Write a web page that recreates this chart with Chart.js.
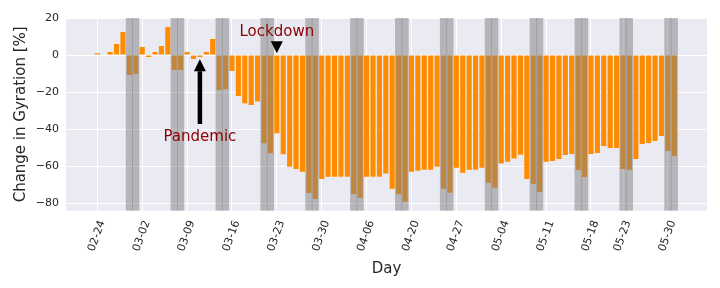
<!DOCTYPE html>
<html>
<head>
<meta charset="utf-8">
<script src="https://cdn.jsdelivr.net/npm/chart.js@4/dist/chart.umd.min.js"></script>
<style>
  html, body { margin: 0; padding: 0; background: #ffffff; }
  #wrap { width: 720px; height: 288px; }
</style>
</head>
<body>
<div id="wrap"><canvas id="c" width="720" height="288"></canvas></div>
<script>
// ---------------- data ----------------
// day index (0 = 02-24)
const days = [
  0,1,2,3,4,5,6,7,8,9,10,11,12,13,14,15,16,17,18,19,20,21,22,23,24,25,26,27,28,29,
  30,31,32,33,34,35,36,37,38,39,40,41,42,43,44,45,46,47,48,49,50,51,52,53,54,55,56,57,58,59,
  60,61,62,63,64,65,66,67,68,69,70,71,72,73,74,75,76,77,78,79,80,81,82,83,84,85,86,87,88,89,90
];
// change in gyration [%]
const gyration = [
  1.0, 0.0, 1.6, 5.9, 12.4, -10.8, -10.3, 4.3, -1.1, 1.6,
  4.9, 15.1, -8.1, -8.1, 1.6, -2.2, -1.1, 1.6, 8.6, -18.9,
  -18.4, -8.6, -22.2, -26.1, -27.0, -25.2, -47.7, -53.1, -42.3, -53.7,
  -60.4, -61.6, -63.1, -74.6, -77.8, -67.0, -65.8, -65.8, -65.8, -65.8,
  -75.1, -77.1, -65.8, -65.8, -65.8, -64.1, -72.3, -75.1, -79.3, -63.1,
  -62.5, -62.0, -62.0, -60.4, -72.3, -74.4, -60.9, -63.6, -62.0, -62.0,
  -60.9, -69.0, -71.7, -58.7, -57.7, -56.0, -53.9, -67.0, -69.7, -74.1,
  -57.7, -57.3, -56.2, -54.1, -53.5, -62.2, -65.9, -53.5, -53.0, -49.2,
  -50.3, -50.3, -61.6, -62.2, -56.2, -48.1, -47.6, -46.5, -43.8, -51.9,
  -54.6
];
// weekend days (shaded)
const weekendDays = [5,6,12,13,19,20,26,27,33,34,40,41,47,48,54,55,61,62,68,69,75,76,82,83,89,90];
// x tick positions and labels
const tickDays   = [0, 7, 14, 21, 28, 35, 42, 49, 56, 63, 70, 77, 82, 89];
const tickLabels = ['02-24','03-02','03-09','03-16','03-23','03-30','04-06','04-20','04-27','05-04','05-11','05-18','05-23','05-30'];
// y ticks
const yTicks = [20, 0, -20, -40, -60, -80];
// axis limits
const xLimits = [-4.885, 95.1];
const yLimits = [-84.16, 20];
// events (annotations)
const eventNames      = ['Pandemic', 'Lockdown'];
const eventDays       = [16, 28];
const eventTipValues  = [-2.3, 0.9];
const eventTailValues = [-37.3, 7.2];
const eventTextValues = [-46.3, 10.4];

// ---------------- drawing ----------------
const FONT = '"DejaVu Sans", "Liberation Sans", sans-serif';
const TXT = '#262626';

const bgPlugin = {
  id: 'bg',
  beforeDraw(chart) {
    const { ctx, chartArea: a } = chart;
    ctx.save();
    ctx.fillStyle = '#EAEAF2';
    ctx.fillRect(a.left, a.top, a.right - a.left, a.bottom - a.top);
    ctx.restore();
  }
};

const annPlugin = {
  id: 'ann',
  afterDatasetsDraw(chart) {
    const { ctx } = chart;
    const xs = chart.scales.x, ys = chart.scales.y;
    const headLen = 12, headW = 12, shaftW = 4.5;
    ctx.save();
    for (let i = 0; i < eventNames.length; i++) {
      const x = xs.getPixelForValue(eventDays[i]);
      const tip = ys.getPixelForValue(eventTipValues[i]);
      const tail = ys.getPixelForValue(eventTailValues[i]);
      const dir = tail > tip ? 1 : -1; // +1: arrow points up
      const base = tip + dir * headLen;
      ctx.fillStyle = '#000000';
      // shaft
      if ((tail - base) * dir > 0) {
        ctx.fillRect(x - shaftW / 2, Math.min(base, tail), shaftW, Math.abs(tail - base));
      }
      // head
      ctx.beginPath();
      ctx.moveTo(x, tip);
      ctx.lineTo(x - headW / 2, base);
      ctx.lineTo(x + headW / 2, base);
      ctx.closePath();
      ctx.fill();
      // text
      ctx.fillStyle = '#8B0000';
      ctx.font = '15px ' + FONT;
      ctx.textAlign = 'center';
      ctx.textBaseline = 'alphabetic';
      ctx.fillText(eventNames[i], x, ys.getPixelForValue(eventTextValues[i]));
    }
    ctx.restore();
  }
};

const minusFmt = v => (v < 0 ? '\u2212' + Math.abs(v) : String(v));

new Chart(document.getElementById('c').getContext('2d'), {
  type: 'bar',
  data: {
    datasets: [
      {
        label: 'weekend',
        data: weekendDays.map(d => ({ x: d, y: [yLimits[0], yLimits[1]] })),
        backgroundColor: 'rgba(128,128,128,0.5)',
        borderWidth: 0,
        grouped: false,
        order: 0,
        categoryPercentage: 1,
        barPercentage: 1.12
      },
      {
        label: 'gyration',
        data: days.map((d, i) => ({ x: d, y: gyration[i] })),
        backgroundColor: '#FF8C00',
        borderWidth: 0,
        grouped: false,
        order: 1,
        categoryPercentage: 1,
        barPercentage: 0.8
      }
    ]
  },
  options: {
    responsive: false,
    animation: false,
    devicePixelRatio: 1,
    layout: { padding: { left: 0, right: 13, top: 18, bottom: 0 } },
    plugins: { legend: { display: false }, tooltip: { enabled: false } },
    scales: {
      x: {
        type: 'linear',
        min: xLimits[0],
        max: xLimits[1],
        offset: false,
        afterBuildTicks: ax => { ax.ticks = tickDays.map(v => ({ value: v })); },
        afterFit: ax => { ax.height = 77.3; },
        grid: { color: '#ffffff', lineWidth: 1, drawTicks: false, offset: false },
        border: { display: false },
        ticks: {
          autoSkip: false, minRotation: 70, maxRotation: 70,
          color: TXT, font: { family: FONT, size: 11 }, padding: 8, labelOffset: 5,
          callback: v => tickLabels[tickDays.indexOf(v)]
        },
        title: { display: true, text: 'Day', color: TXT, font: { family: FONT, size: 15 }, padding: { top: 0, bottom: 10 } }
      },
      y: {
        min: yLimits[0],
        max: yLimits[1],
        afterBuildTicks: ax => { ax.ticks = yTicks.map(v => ({ value: v })); },
        afterFit: ax => { ax.width = 66; },
        grid: { color: '#ffffff', lineWidth: 1, drawTicks: false },
        border: { display: false },
        ticks: { color: TXT, font: { family: FONT, size: 11 }, padding: 7, callback: v => minusFmt(v) },
        title: { display: true, text: 'Change in Gyration [%]', color: TXT, font: { family: FONT, size: 15 }, padding: { top: 12, bottom: 0 } }
      }
    }
  },
  plugins: [bgPlugin, annPlugin]
});
</script>
</body>
</html>
